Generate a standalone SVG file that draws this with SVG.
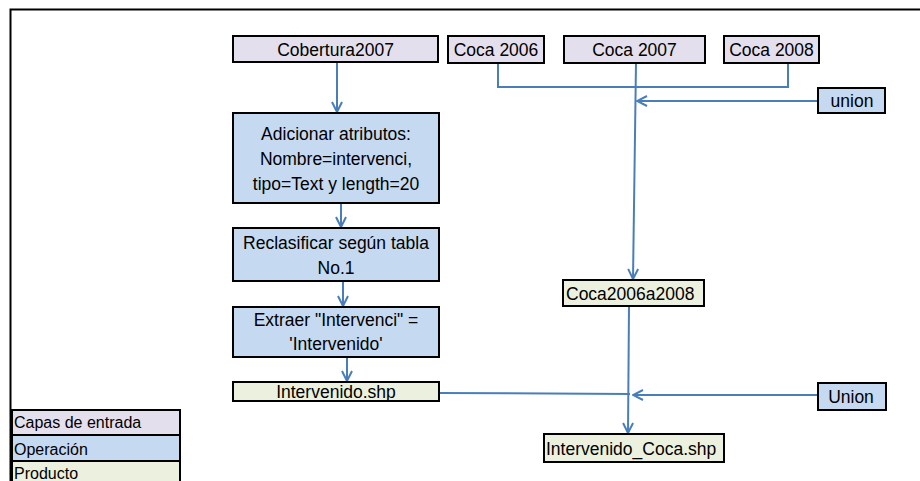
<svg xmlns="http://www.w3.org/2000/svg" width="920" height="481" viewBox="0 0 920 481">
<style>
text{font-family:"Liberation Sans",Arial,sans-serif;font-size:17.5px;fill:#000}
.c{text-anchor:middle}
.in{fill:#E4DFEC;stroke:#000;stroke-width:2}
.op{fill:#C5D9F1;stroke:#000;stroke-width:2}
.pr{fill:#EBF1DE;stroke:#000;stroke-width:2}
.ln{fill:none;stroke:#4A7EBB;stroke-width:2}
.lg{font-size:16px}
</style>
<defs>
<marker id="ah" viewBox="0 0 12 12" refX="11" refY="6" markerWidth="12" markerHeight="12" markerUnits="userSpaceOnUse" orient="auto">
<path d="M1,1 L11,6 L1,11" fill="none" stroke="#4A7EBB" stroke-width="2"/>
</marker>
</defs>
<rect width="920" height="481" fill="#fff"/>
<path d="M10.5,481 V9.5 H920" fill="none" stroke="#000" stroke-width="2"/>
<g id="connectors">
<line class="ln" x1="337" y1="62" x2="337" y2="112" marker-end="url(#ah)"/>
<line class="ln" x1="341" y1="203" x2="341" y2="227" marker-end="url(#ah)"/>
<line class="ln" x1="343" y1="281" x2="343" y2="306" marker-end="url(#ah)"/>
<line class="ln" x1="347" y1="357" x2="347" y2="381" marker-end="url(#ah)"/>
<polyline class="ln" points="498,63 498,87 788,87 788,63"/>
<line class="ln" x1="636" y1="63" x2="633" y2="279" marker-end="url(#ah)"/>
<line class="ln" x1="818" y1="101" x2="637" y2="101" marker-end="url(#ah)"/>
<line class="ln" x1="439" y1="393" x2="630" y2="394"/>
<line class="ln" x1="818" y1="395" x2="633" y2="395" marker-end="url(#ah)"/>
<line class="ln" x1="629" y1="306" x2="628" y2="433" marker-end="url(#ah)"/>
</g>
<g id="cobertura2007"><rect class="in" x="233" y="36" width="205" height="26"/><text class="c" x="335.5" y="56">Cobertura2007</text></g>
<g id="coca2006"><rect class="in" x="448" y="36" width="96" height="27"/><text class="c" x="496" y="56">Coca 2006</text></g>
<g id="coca2007"><rect class="in" x="564" y="36" width="141" height="27"/><text class="c" x="634.5" y="56">Coca 2007</text></g>
<g id="coca2008"><rect class="in" x="724" y="36" width="95" height="27"/><text class="c" x="771.5" y="56">Coca 2008</text></g>
<g id="union1"><rect class="op" x="818" y="88" width="67" height="25"/><text class="c" x="852" y="107">union</text></g>
<g id="adicionar"><rect class="op" x="233" y="113" width="206" height="90"/>
<text class="c" x="336" y="140">Adicionar atributos:</text>
<text class="c" x="336" y="165">Nombre=intervenci,</text>
<text class="c" x="336" y="190">tipo=Text y length=20</text></g>
<g id="reclasificar"><rect class="op" x="233" y="228" width="206" height="53"/>
<text class="c" x="336" y="249">Reclasificar según tabla</text>
<text class="c" x="336" y="274">No.1</text></g>
<g id="extraer"><rect class="op" x="233" y="307" width="206" height="50"/>
<text class="c" x="336" y="326">Extraer "Intervenci" =</text>
<text class="c" x="336" y="350">'Intervenido'</text></g>
<g id="intervenido"><rect class="pr" x="233" y="382" width="206" height="19"/><text class="c" x="336" y="398">Intervenido.shp</text></g>
<g id="coca2006a2008"><rect class="pr" x="563" y="280" width="141" height="26"/><text x="566" y="300">Coca2006a2008</text></g>
<g id="union2"><rect class="op" x="818" y="383" width="68" height="27"/><text class="c" x="851" y="403">Union</text></g>
<g id="intervenidoCoca"><rect class="pr" x="544" y="434" width="180" height="28"/><text x="546" y="455">Intervenido_Coca.shp</text></g>
<g id="legend">
<rect class="in" x="12" y="410" width="168" height="25"/><text class="lg" x="14" y="428">Capas de entrada</text>
<rect class="op" x="12" y="435" width="168" height="26"/><text class="lg" x="14" y="455">Operación</text>
<rect class="pr" x="12" y="461" width="168" height="24"/><text class="lg" x="14" y="479">Producto</text>
</g>
</svg>
